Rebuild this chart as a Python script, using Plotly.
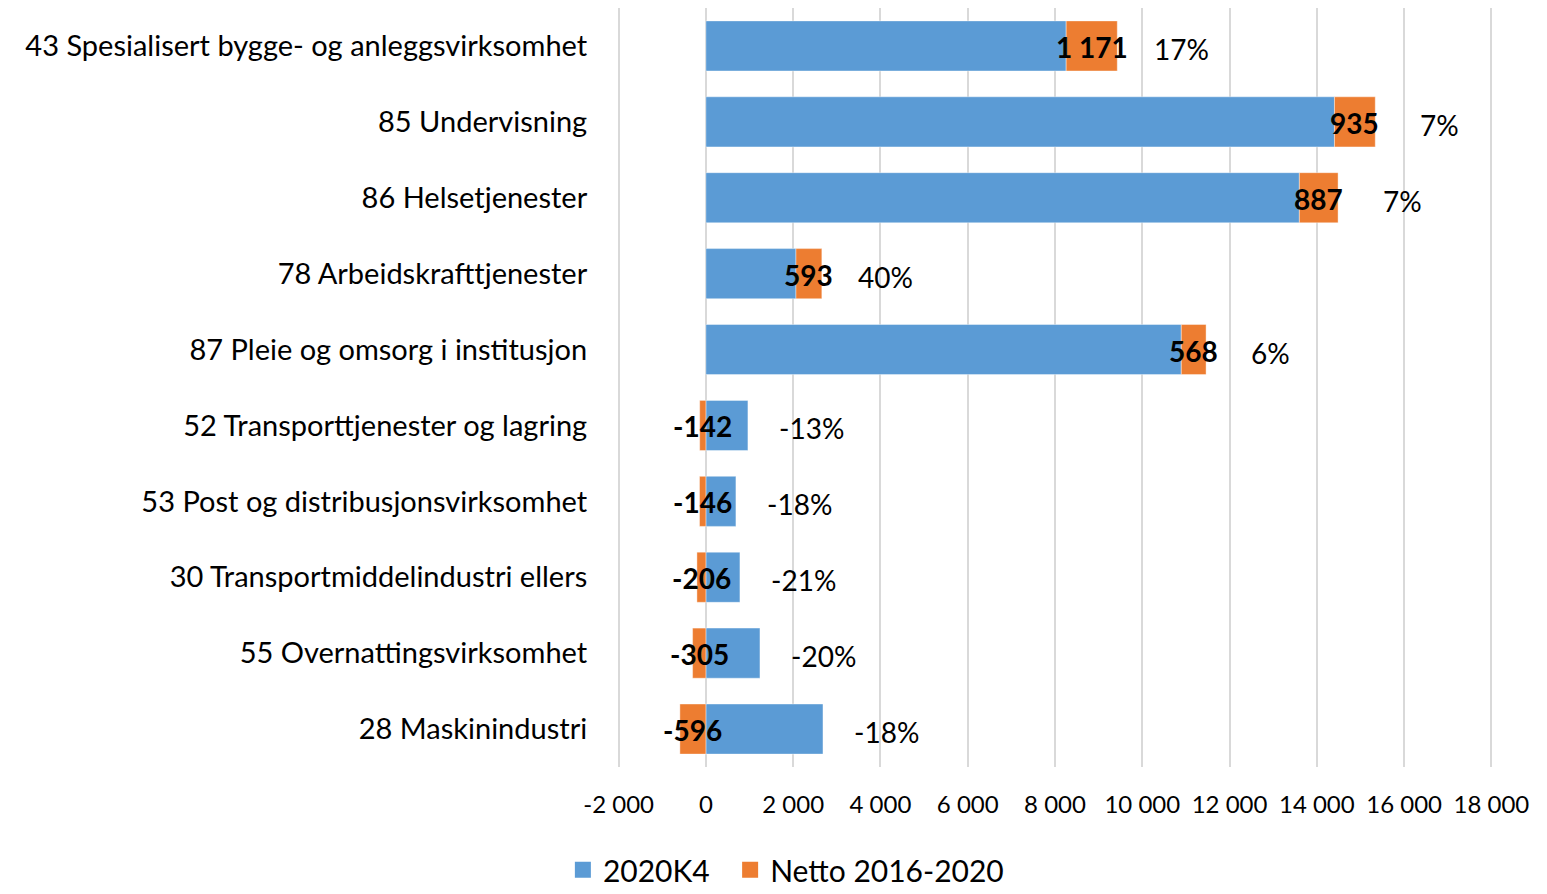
import plotly.graph_objects as go

categories = [
    "43 Spesialisert bygge- og anleggsvirksomhet",
    "85 Undervisning",
    "86 Helsetjenester",
    "78 Arbeidskrafttjenester",
    "87 Pleie og omsorg i institusjon",
    "52 Transporttjenester og lagring",
    "53 Post og distribusjonsvirksomhet",
    "30 Transportmiddelindustri ellers",
    "55 Overnattingsvirksomhet",
    "28 Maskinindustri",
]
value_2020k4 = [8256, 14404, 13600, 2064, 10894, 963, 688, 780, 1239, 2683]
netto = [1171, 935, 887, 593, 568, -142, -146, -206, -305, -596]
netto_labels = ["1 171", "935", "887", "593", "568", "-142", "-146", "-206", "-305", "-596"]
pct_labels = ["17%", "7%", "7%", "40%", "6%", "-13%", "-18%", "-21%", "-20%", "-18%"]
tick_vals = [-2000, 0, 2000, 4000, 6000, 8000, 10000, 12000, 14000, 16000, 18000]
tick_text = ["-2 000", "0", "2 000", "4 000", "6 000", "8 000", "10 000", "12 000", "14 000", "16 000", "18 000"]
series_names = ["2020K4", "Netto 2016-2020"]

BLUE = "#5B9BD5"
ORANGE = "#ED7D31"
FONT = "Lato"

fig = go.Figure()
fig.add_trace(go.Bar(
    y=categories, x=value_2020k4, orientation="h", name=series_names[0],
    marker=dict(color=BLUE, line=dict(color="rgba(255,255,255,0.4)", width=1)),
    showlegend=False,
))
fig.add_trace(go.Bar(
    y=categories, x=netto, orientation="h", name=series_names[1],
    marker=dict(color=ORANGE, line=dict(color="rgba(255,255,255,0.4)", width=1)),
    showlegend=False,
))
# legend entries with larger square swatches
for nm, col in zip(series_names, [BLUE, ORANGE]):
    fig.add_trace(go.Scatter(
        x=[None], y=[None], mode="markers", name=nm + "  ",
        marker=dict(symbol="square", size=19, color=col),
        showlegend=True,
    ))

annotations = []
for cat, b, n, nl, pl in zip(categories, value_2020k4, netto, netto_labels, pct_labels):
    center = b + n / 2 if n >= 0 else n / 2
    annotations.append(dict(
        x=center, y=cat, xref="x", yref="y", text="<b>" + nl + "</b>",
        showarrow=False, xanchor="center", yanchor="middle",
        font=dict(family=FONT, size=28, color="black"), yshift=-1,
    ))
    end = b + n if n >= 0 else b
    annotations.append(dict(
        x=end, y=cat, xref="x", yref="y", text=pl,
        showarrow=False, xanchor="center", yanchor="middle",
        font=dict(family=FONT, size=28, color="black"), xshift=64, yshift=-3,
    ))

fig.update_layout(
    barmode="relative",
    bargap=0.34,
    width=1547, height=894,
    margin=dict(l=608, r=61, t=0, b=135),
    paper_bgcolor="white", plot_bgcolor="white",
    font=dict(family=FONT, color="black"),
    annotations=annotations,
    showlegend=True,
    legend=dict(
        orientation="h", xref="container", yref="container",
        x=0.508, xanchor="center", y=0.036, yanchor="middle",
        font=dict(family=FONT, size=30), itemwidth=30,
    ),
)
fig.update_xaxes(
    range=[-2060, 18060], tickvals=tick_vals, ticktext=tick_text,
    showgrid=True, gridcolor="#D9D9D9", gridwidth=2,
    zeroline=True, zerolinecolor="#D9D9D9", zerolinewidth=2,
    tickfont=dict(family=FONT, size=24), ticks="outside", ticklen=16,
    tickcolor="rgba(0,0,0,0)", showline=False,
)
fig.update_yaxes(
    categoryorder="array", categoryarray=categories, autorange="reversed",
    tickfont=dict(family=FONT, size=29), ticks="outside", ticklen=22,
    tickcolor="rgba(0,0,0,0)", showgrid=False, showline=False,
)

fig.write_html("out.html")
